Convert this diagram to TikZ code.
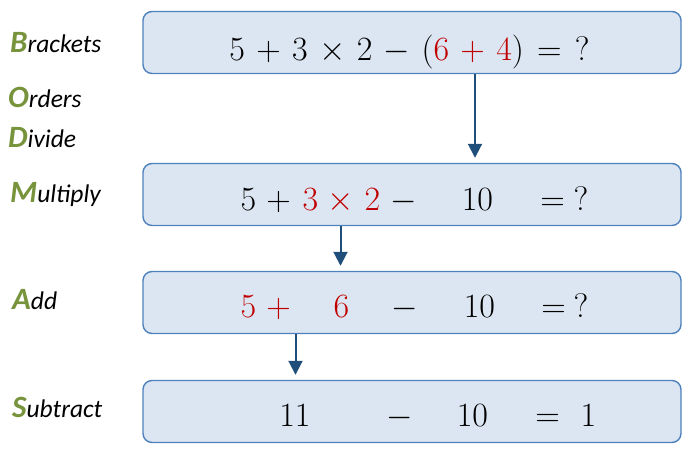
\RequirePackage{fix-cm}
\documentclass[tikz,border=0pt]{standalone}
\usepackage[no-math]{fontspec}
\newfontfamily\lblfont{Carlito}
\usetikzlibrary{arrows.meta}
\definecolor{boxfill}{HTML}{DCE6F2}
\definecolor{boxline}{HTML}{4F81BD}
\definecolor{arrcol}{HTML}{1F4E7A}
\definecolor{grn}{HTML}{77933C}
\definecolor{redt}{HTML}{C00000}
\tikzset{
  stepbox/.style={draw=boxline, fill=boxfill, line width=1.4pt, rounded corners=9pt,
    minimum width=538pt, minimum height=62pt, inner sep=0pt},
  tok/.style={anchor=base, inner sep=0pt, font=\fontsize{34}{40}\selectfont},
  rtok/.style={tok, text=redt},
  lbl/.style={anchor=base west, inner sep=0pt},
  arr/.style={draw=arrcol, line width=2pt, -{Triangle[width=14pt,length=14pt]}, shorten >=5pt},
}
\newcommand{\firstl}[1]{{\lblfont\fontsize{31}{32}\selectfont\bfseries\itshape\color{grn}#1}}
\newcommand{\restl}[1]{{\lblfont\fontsize{25.5}{28}\selectfont\itshape #1}}
\begin{document}
\begin{tikzpicture}[x=1pt,y=1pt]
\useasboundingbox (0,0) rectangle (695,454);
% boxes
\node[stepbox] (b1) at (412,411.5) {};
\node[stepbox] (b2) at (412,259.5) {};
\node[stepbox] (b3) at (412,151.5) {};
\node[stepbox] (b4) at (412,42.5) {};
% box 1
\node[tok] (e1) at (409.5,393) {$\medmuskip=6mu\thickmuskip=7mu 5+3\times2-({\color{redt}6+4})=\mathord{?}$};
% box 2 (baseline 211)
\node[tok]  (e2a) at (248.5,243) {$5$};
\node[tok]  (e2b) at (278.5,243) {$+$};
\node[rtok] (e2c) at (310.5,243) {$3$};
\node[rtok] (e2d) at (341,243) {$\times$};
\node[rtok] (e2e) at (372.5,243) {$2$};
\node[tok]  (e2f) at (403.5,243) {$-$};
\node[tok]  (e2g) at (477.5,243) {$10$};
\node[tok]  (e2h) at (552.5,243) {$=$};
\node[tok]  (e2i) at (581,243) {$?$};
% box 3 (baseline 318)
\node[rtok] (e3a) at (248.5,136) {$5$};
\node[rtok] (e3b) at (278.5,136) {$+$};
\node[rtok] (e3c) at (341.5,136) {$6$};
\node[tok]  (e3d) at (405,136) {$-$};
\node[tok]  (e3e) at (479.5,136) {$10$};
\node[tok]  (e3f) at (553.5,136) {$=$};
\node[tok]  (e3g) at (581,136) {$?$};
% box 4 (baseline 427)
\node[tok] (e4a) at (295,27) {$11$};
\node[tok] (e4b) at (400,27) {$-$};
\node[tok] (e4c) at (472.5,27) {$10$};
\node[tok] (e4d) at (547.5,27) {$=$};
\node[tok] (e4e) at (588.5,27) {$1$};
% labels
\node[lbl] (lB) at (10,401) {\firstl{B}\restl{rackets}};
\node[lbl] (lO) at (8,346) {\firstl{O}\restl{rders}};
\node[lbl] (lD) at (8,306) {\firstl{D}\restl{ivide}};
\node[lbl] (lM) at (10,251) {\firstl{M}\restl{ultiply}};
\node[lbl] (lA) at (12,144) {\firstl{A}\restl{dd}};
\node[lbl] (lS) at (12,36) {\firstl{S}\restl{ubtract}};
% arrows
\coordinate (x1) at (475,0);
\coordinate (x2) at (340.5,0);
\coordinate (x3) at (295.5,0);
\draw[arr] (b1.south -| x1) -- (b2.north -| x1);
\draw[arr] (b2.south -| x2) -- (b3.north -| x2);
\draw[arr] (b3.south -| x3) -- (b4.north -| x3);
\end{tikzpicture}
\end{document}
